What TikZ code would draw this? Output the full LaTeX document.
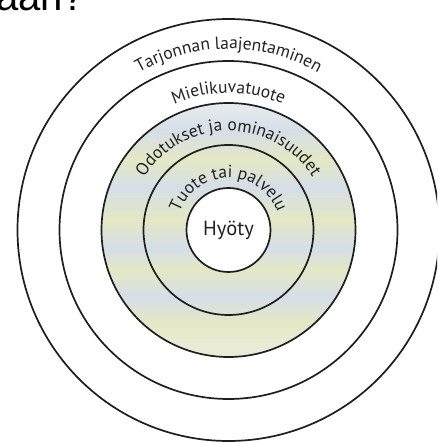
\documentclass[tikz,border=0pt]{standalone}
\usepackage{fontspec}
\setmainfont{PT Sans}
\newfontfamily\headfont{Liberation Sans}
\usetikzlibrary{decorations.text}

\definecolor{ringline}{HTML}{1E1E1E}
\definecolor{ringtext}{HTML}{222222}
\definecolor{bandblue}{HTML}{D6DEE8}
\definecolor{bandyellow}{HTML}{E4E8C4}
\definecolor{bandpale}{HTML}{E8ECEE}
\definecolor{bandlow}{HTML}{E9EBD6}

\newcommand\ringfont{\fontsize{17.5}{20}\selectfont}

% soft horizontal bands of the shaded core
\pgfdeclareverticalshading{bands}{100bp}{color(0bp)=(bandlow); color(25bp)=(bandlow);
  color(27.4bp)=(bandlow); color(31.7bp)=(bandyellow); color(36.8bp)=(bandblue);
  color(42.1bp)=(bandyellow); color(46.5bp)=(bandblue); color(52bp)=(bandyellow);
  color(58.3bp)=(bandblue); color(63.8bp)=(bandyellow); color(69.7bp)=(bandblue);
  color(75bp)=(bandpale); color(100bp)=(bandpale)}

\tikzset{
  ring/.style={draw=ringline, line width=1.7pt},
  ringlabel/.style={decorate, decoration={text along path, text align=center,
      text color=ringtext, text={|\ringfont|#1}}},
}

\begin{document}
\begin{tikzpicture}[x=1pt,y=1pt]
  \useasboundingbox (0,0) rectangle (437,442);
  \clip (0,0) rectangle (437,442);
  \fill[white] (0,0) rectangle (437,442);
  \coordinate (c) at (228.5,212);

  % shaded core
  \shade[shading=bands] (c) circle (127);
  \fill[white] (c) circle (42);

  % rings
  \foreach \r in {42,85,127,169,211}
    \draw[ring] (c) circle (\r);

  % ring labels
  \path[ringlabel={Tarjonnan laajentaminen}] (c) ++(170:181) arc (170:10:181);
  \path[ringlabel={Mielikuvatuote}] (c) ++(170:137) arc (170:10:137);
  \path[ringlabel={Odotukset ja ominaisuudet}] (c) ++(200:99) arc (200:-20:99);
  \path[ringlabel={Tuote tai palvelu}] (c) ++(210:52) arc (210:-30:52);

  % centre
  \node[text=ringtext, font=\fontsize{20.5}{22}\selectfont] (hyoty) at (c) {Hyöty};

  % cut-off heading
  \node[anchor=base west, inner sep=0, font=\headfont\fontsize{40}{40}\selectfont] (heading) at (-4,431) {aan?};
\end{tikzpicture}
\end{document}
